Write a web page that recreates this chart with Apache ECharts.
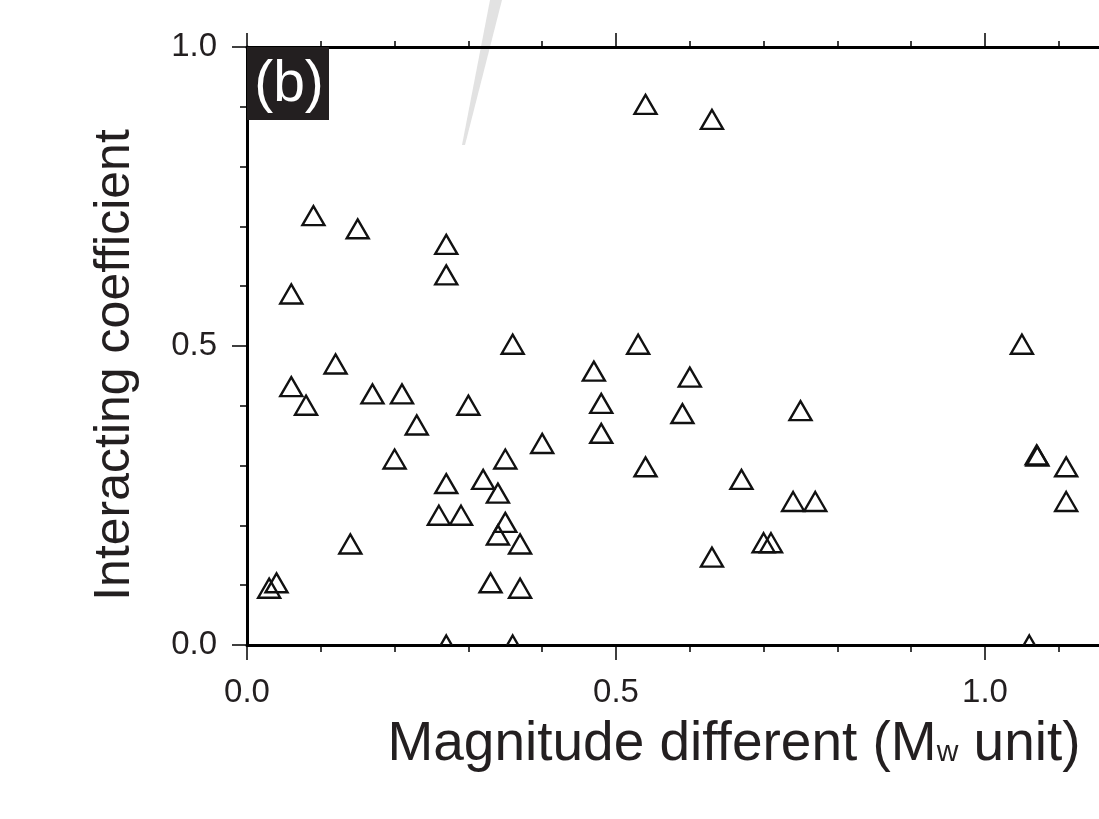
<!DOCTYPE html>
<html>
<head>
<meta charset="utf-8">
<script src="https://cdn.jsdelivr.net/npm/echarts@6/dist/echarts.min.js"></script>
<style>
  html, body { margin: 0; padding: 0; background: #fff; }
  #main { width: 1099px; height: 819px; }
</style>
</head>
<body>
<div id="main"></div>
<script>
var font = '"Liberation Sans", Arial, sans-serif'
var ink = '#231f20'

// magnitude difference (Mw unit) and interacting coefficient
var magDiff = [0.09, 0.15, 0.27, 0.27, 0.06, 0.36, 0.12, 0.06, 0.17, 0.21,
  0.08, 0.30, 0.23, 0.20, 0.35, 0.27, 0.32, 0.34, 0.26, 0.29,
  0.35, 0.34, 0.37, 0.14, 0.03, 0.04, 0.33, 0.37, 0.27, 0.36,
  0.54, 0.63, 0.53, 0.47, 0.60, 0.48, 0.59, 0.75, 0.40, 0.48,
  0.54, 0.67, 0.74, 0.77, 0.70, 0.71, 0.63, 1.05, 1.07, 1.071,
  1.11, 1.11, 1.06]
var coeff = [0.718, 0.696, 0.670, 0.619, 0.587, 0.503, 0.470, 0.432, 0.420, 0.420,
  0.401, 0.401, 0.368, 0.311, 0.311, 0.270, 0.277, 0.254, 0.217, 0.217,
  0.205, 0.184, 0.169, 0.169, 0.095, 0.104, 0.104, 0.095, 0, 0,
  0.904, 0.879, 0.503, 0.458, 0.448, 0.404, 0.387, 0.392, 0.337, 0.354,
  0.298, 0.277, 0.240, 0.240, 0.171, 0.171, 0.147, 0.503, 0.318, 0.316,
  0.298, 0.240, 0]
var xTicks = [0, 0.5, 1.0]
var yTicks = [0, 0.5, 1.0]

var points = []
for (var i = 0; i < magDiff.length; i++) {
  points.push([magDiff[i], coeff[i]])
}

function drawTriangle(params, api) {
  var p = api.coord([api.value(0), api.value(1)])
  var hw = 11, hh = 9.5
  return {
    type: 'polygon',
    shape: {
      points: [[p[0], p[1] - hh], [p[0] + hw, p[1] + hh], [p[0] - hw, p[1] + hh]]
    },
    style: { fill: 'none', stroke: '#111', lineWidth: 2.4 }
  }
}

var chart = echarts.init(document.getElementById('main'), null, { renderer: 'canvas' })

var tickFmt = function (v) {
  return xTicks.indexOf(v) >= 0 ? v.toFixed(1) : ''
}

var option = {
  backgroundColor: '#fff',
  animation: false,
  grid: {
    left: 247,
    top: 47,
    width: 1107,
    height: 598,
    outerBoundsMode: 'none'
  },
  xAxis: [
    {
      type: 'value',
      position: 'bottom',
      min: 0,
      max: 1.5,
      interval: 0.5,
      axisLine: { show: true, onZero: false, lineStyle: { color: '#000', width: 3 } },
      axisTick: { show: true, inside: false, length: 15, lineStyle: { color: '#000', width: 1.5 } },
      minorTick: { show: true, splitNumber: 5, length: 7, lineStyle: { color: '#000', width: 1.5 } },
      splitLine: { show: false },
      minorSplitLine: { show: false },
      axisLabel: { fontSize: 33, margin: 31, color: ink, fontFamily: font, formatter: tickFmt }
    },
    {
      type: 'value',
      position: 'top',
      min: 0,
      max: 1.5,
      interval: 0.5,
      axisLine: { show: true, onZero: false, lineStyle: { color: '#000', width: 3 } },
      axisTick: { show: true, inside: false, length: 14, lineStyle: { color: '#000', width: 1.5 } },
      minorTick: { show: true, splitNumber: 5, length: 6, lineStyle: { color: '#000', width: 1.5 } },
      splitLine: { show: false },
      axisLabel: { show: false }
    }
  ],
  yAxis: {
    type: 'value',
    position: 'left',
    min: 0,
    max: 1,
    interval: 0.5,
    axisLine: { show: true, onZero: false, lineStyle: { color: '#000', width: 3 } },
    axisTick: { show: true, inside: false, length: 15, lineStyle: { color: '#000', width: 1.5 } },
    minorTick: { show: true, splitNumber: 5, length: 7, lineStyle: { color: '#000', width: 1.5 } },
    splitLine: { show: false },
    minorSplitLine: { show: false },
    axisLabel: {
      fontSize: 33, margin: 30, color: ink, fontFamily: font,
      formatter: function (v) { return yTicks.indexOf(v) >= 0 ? v.toFixed(1) : '' }
    },
    name: 'Interacting coefficient',
    nameLocation: 'middle',
    nameGap: 107,
    nameRotate: 90,
    nameTextStyle: { fontSize: 50, color: ink, fontFamily: font, padding: [0, 38, 0, 0] }
  },
  graphic: [
    {
      // faint grey streak in the original scan
      type: 'polygon',
      z: -1,
      shape: { points: [[490, 0], [502, 0], [465, 145], [462, 145]] },
      style: { fill: '#e2e2e2' }
    },
    {
      type: 'rect',
      z: 100,
      shape: { x: 247, y: 47, width: 82, height: 73 },
      style: { fill: ink }
    },
    {
      type: 'text',
      z: 101,
      x: 289,
      y: 85,
      style: {
        text: '(b)', fill: '#fff', fontSize: 57, fontFamily: font,
        align: 'center', verticalAlign: 'middle'
      }
    },
    {
      type: 'text',
      x: 734,
      y: 741,
      style: {
        text: '{a|Magnitude different (M}{s|w}{a| unit)}',
        align: 'center',
        verticalAlign: 'middle',
        rich: {
          a: { fontSize: 55, fontFamily: font, fill: ink, color: ink, lineHeight: 62, verticalAlign: 'bottom' },
          s: { fontSize: 30, fontFamily: font, fill: ink, color: ink, lineHeight: 62, verticalAlign: 'bottom', padding: [0, 0, 4, 0] }
        }
      }
    }
  ],
  series: [
    {
      type: 'custom',
      clip: true,
      xAxisIndex: 0,
      yAxisIndex: 0,
      encode: { x: 0, y: 1 },
      data: points,
      renderItem: drawTriangle
    }
  ]
}

chart.setOption(option)
</script>
</body>
</html>
